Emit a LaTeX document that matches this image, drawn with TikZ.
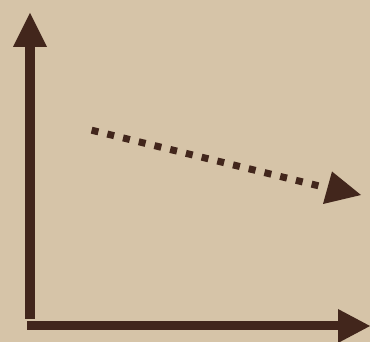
\documentclass[tikz,border=0pt]{standalone}
\definecolor{paper}{RGB}{214,196,168}
\definecolor{ink}{RGB}{66,38,28}
\tikzset{
  axisline/.style={draw=ink, line cap=butt},
  tiphead/.style={fill=ink, draw=none},
  dotline/.style={draw=ink, line width=7pt, dash pattern=on 7pt off 9.18pt, line cap=butt}
}
\begin{document}
\begin{tikzpicture}[x=1pt,y=1pt]
  \fill[paper] (0,0) rectangle (370,342);
  \useasboundingbox (0,0) rectangle (370,342);
  % vertical axis
  \coordinate (vstart) at (30,23);
  \coordinate (vend) at (30,295);
  \draw[axisline, line width=10pt] (vstart) -- (vend);
  \fill[tiphead] (13,295) -- (47,295) -- (30,329) -- cycle;
  % horizontal axis
  \coordinate (hstart) at (27,16);
  \coordinate (hend) at (338,16);
  \draw[axisline, line width=9pt] (hstart) -- (hend);
  \fill[tiphead] (338,33) -- (338,-1) -- (370,16) -- cycle;
  % dotted arrow
  \coordinate (dstart) at (91.6,211.8);
  \coordinate (dend) at (318.4,156.2);
  \draw[dotline] (dstart) -- (dend);
  \fill[tiphead] (332,170.5) -- (323,138) -- (361,147) -- cycle;
\end{tikzpicture}
\end{document}
